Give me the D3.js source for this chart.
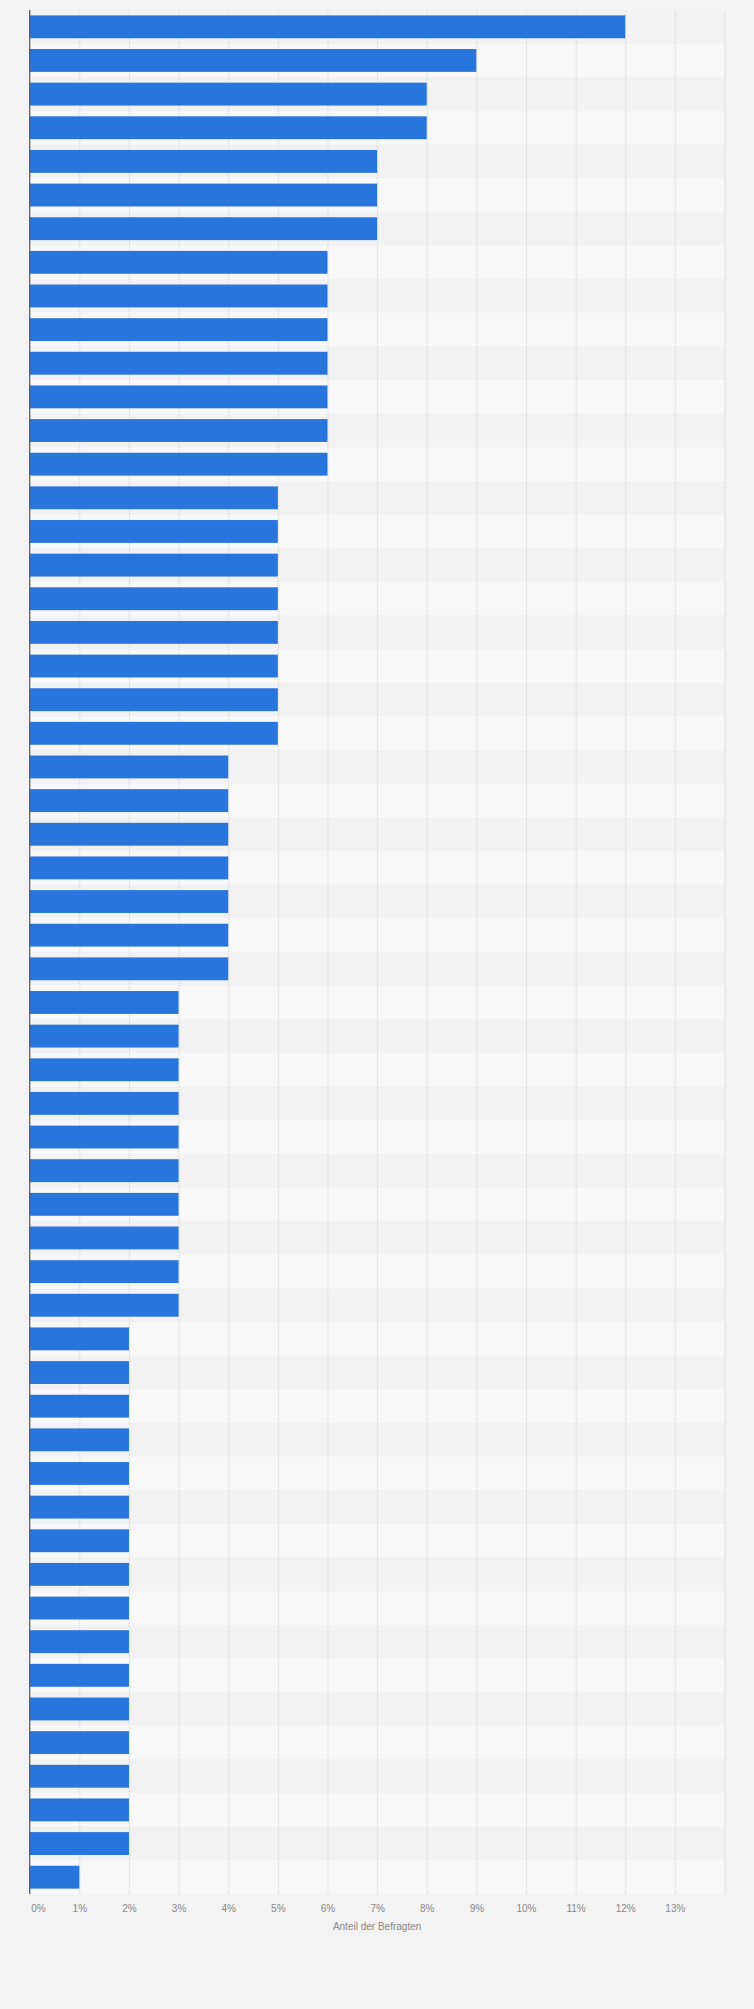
<!DOCTYPE html>
<html>
<head>
<meta charset="utf-8">
<script src="https://cdn.jsdelivr.net/npm/d3@7"></script>
<style>
  body { margin: 0; background: #f3f3f3; }
  svg { display: block; font-family: "Liberation Sans", Arial, sans-serif; }
</style>
</head>
<body>
<script>
let w = 754;
let h = 2009;

// share of respondents (%), one bar per answer, top to bottom
let values = [
    12, 9, 8, 8, 7, 7, 7,
    6, 6, 6, 6, 6, 6, 6,
    5, 5, 5, 5, 5, 5, 5, 5,
    4, 4, 4, 4, 4, 4, 4,
    3, 3, 3, 3, 3, 3, 3, 3, 3, 3,
    2, 2, 2, 2, 2, 2, 2, 2, 2, 2, 2, 2, 2, 2, 2, 2,
    1
]
let categories = values.map((d, i) => i)

let tickValues = [0, 1, 2, 3, 4, 5, 6, 7, 8, 9, 10, 11, 12, 13]
let gridValues = [1, 2, 3, 4, 5, 6, 7, 8, 9, 10, 11, 12, 13, 14]
let axisTitle = "Anteil der Befragten"

let plotLeft = 29.7, plotRight = 724.5, plotTop = 10, plotBottom = 1894

let xScale = d3.scaleLinear()
    .domain([0, 14])
    .range([plotLeft, plotRight])

let yScale = d3.scaleBand()
    .domain(categories)
    .range([plotTop, plotBottom])
    .paddingInner(0.32)
    .paddingOuter(0.16)

let step = yScale.step()

let svg = d3.select("body")
    .append("svg")
    .attr("width", w)
    .attr("height", h)

// alternating row stripes
svg.selectAll("rect.stripe")
    .data(categories)
    .enter()
    .append("rect")
    .attr("class", "stripe")
    .attr("x", plotLeft)
    .attr("y", d => yScale(d) - step * yScale.paddingInner() / 2)
    .attr("width", plotRight - plotLeft)
    .attr("height", step)
    .attr("fill", (d, i) => i % 2 === 0 ? "#f2f2f2" : "#f8f8f8")

// dotted vertical grid
let grid = svg.append("g")
    .attr("transform", `translate(0,${plotBottom})`)
    .call(d3.axisBottom(xScale).tickValues(gridValues).tickSize(-(plotBottom - plotTop)).tickFormat(""))
grid.select(".domain").remove()
grid.selectAll("line")
    .attr("stroke", "#d2d2d2")
    .attr("stroke-dasharray", "1,1")

// bars
svg.selectAll("rect.bar")
    .data(values)
    .enter()
    .append("rect")
    .attr("class", "bar")
    .attr("x", xScale(0))
    .attr("y", (d, i) => yScale(categories[i]))
    .attr("width", d => xScale(d) - xScale(0))
    .attr("height", yScale.bandwidth())
    .attr("fill", "#2876dd")

// left axis line
svg.append("line")
    .attr("x1", xScale(0))
    .attr("x2", xScale(0))
    .attr("y1", plotTop)
    .attr("y2", plotBottom)
    .attr("stroke", "#555")
    .attr("stroke-width", 1.2)

// bottom tick labels
let xAxis = svg.append("g")
    .attr("transform", `translate(0,${plotBottom})`)
    .call(d3.axisBottom(xScale).tickValues(tickValues).tickSize(0).tickPadding(11).tickFormat(d => d + "%"))
xAxis.select(".domain").remove()
xAxis.selectAll("text")
    .attr("fill", "#888")
    .attr("font-size", "10px")
    .attr("font-family", "Liberation Sans, Arial, sans-serif")
xAxis.selectAll("text")
    .filter(d => d === 0)
    .attr("text-anchor", "start")
    .attr("dx", 1)

svg.append("text")
    .text(axisTitle)
    .attr("x", (plotLeft + plotRight) / 2)
    .attr("y", 1930)
    .attr("text-anchor", "middle")
    .attr("fill", "#888")
    .attr("font-size", "10px")
</script>
</body>
</html>
